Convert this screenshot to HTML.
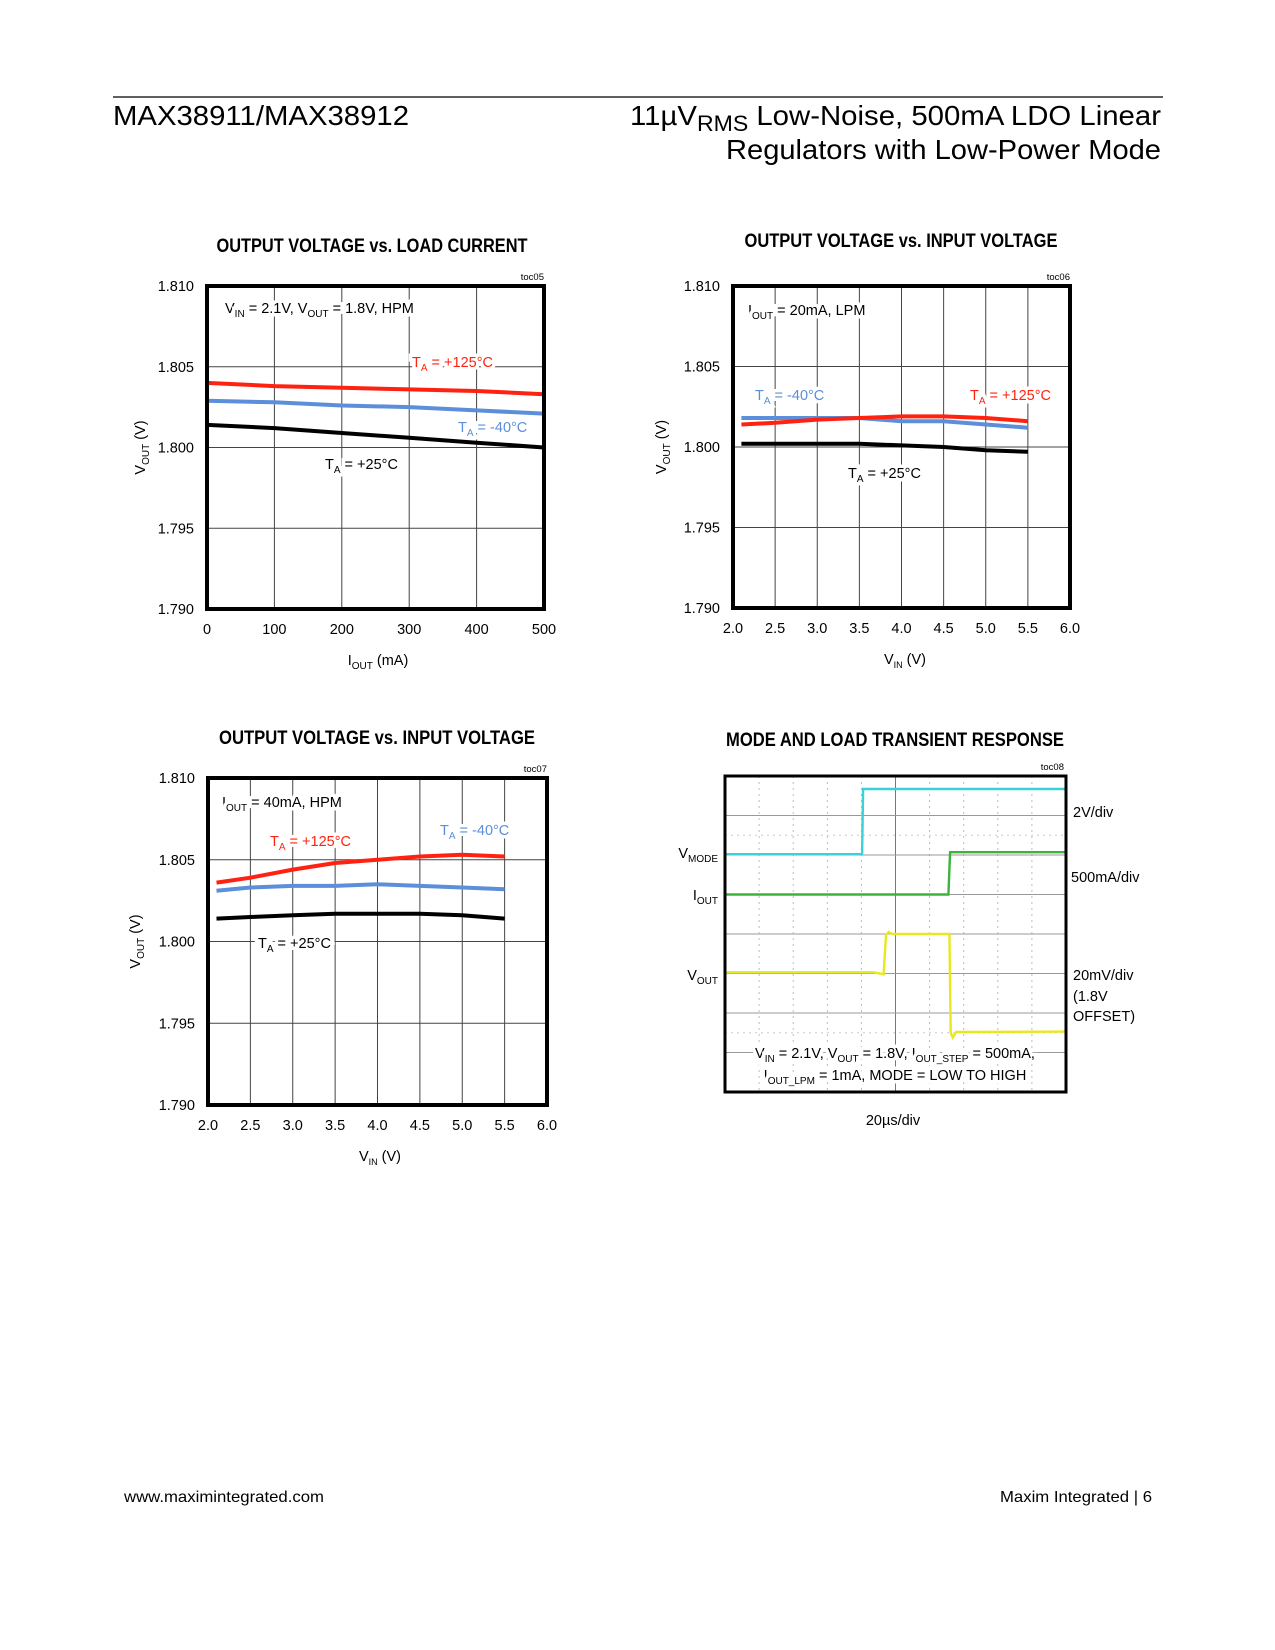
<!DOCTYPE html>
<html><head><meta charset="utf-8"><style>
html,body{margin:0;padding:0;background:#fff;}
svg{display:block;font-family:"Liberation Sans Narrow","Liberation Sans",sans-serif;}
.t{font-weight:bold;font-size:19px;}
.tick{font-size:14.5px;}
.ann{font-size:14.5px;paint-order:stroke;stroke:#fff;stroke-width:7px;}
.hdr{font-family:"Liberation Sans",sans-serif;}
</style></head><body>
<svg id="pg" width="1275" height="1650" viewBox="0 0 1275 1650" xmlns="http://www.w3.org/2000/svg">
<g class="hdr">
<line x1="113" y1="97" x2="1163" y2="97" stroke="#000" stroke-width="1.2"/>
<text x="113" y="125" font-size="28" textLength="296" lengthAdjust="spacingAndGlyphs">MAX38911/MAX38912</text>
<text x="1161" y="125" font-size="28" text-anchor="end" textLength="531" lengthAdjust="spacingAndGlyphs">11µV<tspan dy="6" font-size="22">RMS</tspan><tspan dy="-6"> Low-Noise, 500mA LDO Linear</tspan></text>
<text x="1161" y="159" font-size="28" text-anchor="end" textLength="435" lengthAdjust="spacingAndGlyphs">Regulators with Low-Power Mode</text>
</g>
<g class="hdr">
<text x="124" y="1502" font-size="16" textLength="200" lengthAdjust="spacingAndGlyphs">www.maximintegrated.com</text>
<text x="1152" y="1502" font-size="16" text-anchor="end" textLength="152" lengthAdjust="spacingAndGlyphs">Maxim Integrated | 6</text>
</g>
<g id="c1"></g>
<g id="c2"></g>
<g id="c3"></g>
<g id="c4"></g>
</svg>
<script>
const NS="http://www.w3.org/2000/svg";
// Chart 1 data
const c1X=[0,100,200,300,400,500];
const c1Red=[1.8040,1.8038,1.8037,1.8036,1.8035,1.8033];
const c1Blue=[1.8029,1.8028,1.8026,1.8025,1.8023,1.8021];
const c1Black=[1.8014,1.8012,1.8009,1.8006,1.8003,1.8000];
const c1XTicks=["0","100","200","300","400","500"];
// Chart 2 data
const c2X=[2.1,2.5,3.0,3.5,4.0,4.5,5.0,5.5];
const c2Red=[1.8014,1.8015,1.8017,1.8018,1.8019,1.8019,1.8018,1.8016];
const c2Blue=[1.8018,1.8018,1.8018,1.8018,1.8016,1.8016,1.8014,1.8012];
const c2Black=[1.8002,1.8002,1.8002,1.8002,1.8001,1.8000,1.7998,1.7997];
// Chart 3 data
const c3X=[2.1,2.5,3.0,3.5,4.0,4.5,5.0,5.5];
const c3Red=[1.8036,1.8039,1.8044,1.8048,1.8050,1.8052,1.8053,1.8052];
const c3Blue=[1.8031,1.8033,1.8034,1.8034,1.8035,1.8034,1.8033,1.8032];
const c3Black=[1.8014,1.8015,1.8016,1.8017,1.8017,1.8017,1.8016,1.8014];
const vinTicks=["2.0","2.5","3.0","3.5","4.0","4.5","5.0","5.5","6.0"];
const yTicks=["1.790","1.795","1.800","1.805","1.810"];
// Scope traces (time in divisions 0-10, value in divisions 0-8 from top)
const modeT=[0,4.02,4.05,10];
const modeV=[1.98,1.98,0.33,0.33];
const ioutT=[0,6.55,6.6,10];
const ioutV=[3.0,3.0,1.93,1.93];
const voutT=[0,4.35,4.65,4.72,4.8,4.9,5.1,6.58,6.62,6.68,6.78,10];
const voutV=[4.97,4.97,5.02,4.02,3.95,4.0,4.0,4.0,6.5,6.62,6.48,6.47];

function el(tag,attrs,parent,txt){const e=document.createElementNS(NS,tag);for(const k in attrs)e.setAttribute(k,attrs[k]);if(txt!==undefined)e.textContent=txt;parent.appendChild(e);return e;}

function lineChart(g,cfg){
  const {L,R,T,B,xmin,xmax,xticks,xTickVals,series,title,titleX,titleY,titleW,toc}=cfg;
  const sx=v=>L+(v-xmin)/(xmax-xmin)*(R-L);
  const sy=v=>B-(v-1.790)/(0.020)*(B-T);
  const t=el('text',{x:titleX,y:titleY,'text-anchor':'middle',class:'t',textLength:titleW,lengthAdjust:'spacingAndGlyphs'},g,title);
  
  
  xTickVals.forEach((v,i)=>{
    if(i>0&&i<xTickVals.length-1){const gl=el('line',{x1:sx(v),x2:sx(v),y1:T,y2:B,stroke:'#444','stroke-width':1},g);
    
    }
    const tx=el('text',{x:sx(v),y:B+25,'text-anchor':'middle',class:'tick'},g,xticks[i]);
    
    
  });
  yTicks.forEach((s,i)=>{
    const v=parseFloat(s);
    if(i>0&&i<yTicks.length-1){const gl=el('line',{x1:L,x2:R,y1:sy(v),y2:sy(v),stroke:'#444','stroke-width':1},g);
    
    }
    const ty=el('text',{x:L-13,y:sy(v)+5,'text-anchor':'end',class:'tick'},g,s);
    
    
  });
  cfg.anns.forEach(a=>{
    const e=el('text',{x:a.x,y:a.y,class:'ann',fill:a.c},g);
    e.innerHTML=a.h;
    
    
  });
  series.forEach(s=>{
    const d=s.x.map((xv,i)=>(i?'L':'M')+sx(xv).toFixed(1)+' '+sy(s.y[i]).toFixed(1)).join(' ');
    const p=el('path',{d:d,fill:'none',stroke:s.c,'stroke-width':4,'stroke-linejoin':'round'},g);
    
    
  });
  const fr=el('rect',{x:L,y:T,width:R-L,height:B-T,fill:'none',stroke:'#000','stroke-width':4},g);
  
  
  const tc=el('text',{x:R,y:T-6,'text-anchor':'end','font-size':9.5},g,toc);
  
  
  const yt=el('text',{transform:`translate(${cfg.ytX},${(T+B)/2}) rotate(-90)`,'text-anchor':'middle',class:'tick'},g);
  yt.innerHTML='V<tspan dy="4" font-size="10">OUT</tspan><tspan dy="-4"> (V)</tspan>';
  
  
  const xt=el('text',{x:cfg.xtX,y:B+56,'text-anchor':'middle',class:'tick'},g);
  xt.innerHTML=cfg.xtH;
  
  
}
const TA=(v)=>'T<tspan dy="4" font-size="10">A</tspan><tspan dy="-4"> = '+v+'°C</tspan>';
const SUB=(a,b,c)=>a+'<tspan dy="4" font-size="10">'+b+'</tspan><tspan dy="-4">'+c+'</tspan>';
const VIN='V<tspan dy="4" font-size="9">IN</tspan><tspan dy="-4"> (V)</tspan>';

lineChart(document.getElementById('c1'),{L:207,R:544,T:286,B:609,xmin:0,xmax:500,xticks:c1XTicks,xTickVals:c1XTicks.map(Number),
 title:'OUTPUT VOLTAGE vs. LOAD CURRENT',titleX:372,titleY:252,titleW:311,toc:'toc05',ytX:145,xtX:378,xtH:SUB('I','OUT',' (mA)'),
 series:[{x:c1X,y:c1Red,c:'#f21',n:'series-125c'},{x:c1X,y:c1Blue,c:'#5b8fd9',n:'series-minus40c'},{x:c1X,y:c1Black,c:'#000',n:'series-25c'}],
 anns:[{x:225,y:313,c:'#000',h:SUB('V','IN',' = 2.1V, V')+'<tspan dy="4" font-size="10">OUT</tspan><tspan dy="-4"> = 1.8V, HPM</tspan>',n:'condition-label'},
 {x:412,y:367,c:'#f21',h:TA('+125'),n:'label-125c'},{x:458,y:432,c:'#5b8fd9',h:TA('-40'),n:'label-minus40c'},{x:325,y:469,c:'#000',h:TA('+25'),n:'label-25c'}]});

lineChart(document.getElementById('c2'),{L:733,R:1070,T:286,B:608,xmin:2,xmax:6,xticks:vinTicks,xTickVals:vinTicks.map(Number),
 title:'OUTPUT VOLTAGE vs. INPUT VOLTAGE',titleX:901,titleY:247,titleW:313,toc:'toc06',ytX:666,xtX:905,xtH:VIN,
 series:[{x:c2X,y:c2Blue,c:'#5b8fd9',n:'series-minus40c'},{x:c2X,y:c2Red,c:'#f21',n:'series-125c'},{x:c2X,y:c2Black,c:'#000',n:'series-25c'}],
 anns:[{x:748,y:315,c:'#000',h:SUB('I','OUT',' = 20mA, LPM'),n:'condition-label'},
 {x:970,y:400,c:'#f21',h:TA('+125'),n:'label-125c'},{x:755,y:400,c:'#5b8fd9',h:TA('-40'),n:'label-minus40c'},{x:848,y:478,c:'#000',h:TA('+25'),n:'label-25c'}]});

lineChart(document.getElementById('c3'),{L:208,R:547,T:778,B:1105,xmin:2,xmax:6,xticks:vinTicks,xTickVals:vinTicks.map(Number),
 title:'OUTPUT VOLTAGE vs. INPUT VOLTAGE',titleX:377,titleY:744,titleW:316,toc:'toc07',ytX:140,xtX:380,xtH:VIN,
 series:[{x:c3X,y:c3Red,c:'#f21',n:'series-125c'},{x:c3X,y:c3Blue,c:'#5b8fd9',n:'series-minus40c'},{x:c3X,y:c3Black,c:'#000',n:'series-25c'}],
 anns:[{x:222,y:807,c:'#000',h:SUB('I','OUT',' = 40mA, HPM'),n:'condition-label'},
 {x:270,y:846,c:'#f21',h:TA('+125'),n:'label-125c'},{x:440,y:835,c:'#5b8fd9',h:TA('-40'),n:'label-minus40c'},{x:258,y:948,c:'#000',h:TA('+25'),n:'label-25c'}]});

// Scope
(function(){
  const g=document.getElementById('c4');
  const L=725,R=1066,T=776,B=1092;
  const tx=v=>L+v/10*(R-L), ty=v=>T+v/8*(B-T);
  const t=el('text',{x:895,y:746,'text-anchor':'middle',class:'t',textLength:338,lengthAdjust:'spacingAndGlyphs'},g,'MODE AND LOAD TRANSIENT RESPONSE');
  
  
  const tc=el('text',{x:1064,y:770,'text-anchor':'end','font-size':9.5},g,'toc08');
  
  
  for(let i=1;i<10;i++){const l=el('line',{x1:tx(i),x2:tx(i),y1:T,y2:B,stroke:i==5?'#777':'#bbb','stroke-width':1,'stroke-dasharray':i==5?'none':'2 4'},g);
    
    }
  for(let i=1;i<8;i++){const l=el('line',{x1:L,x2:R,y1:ty(i),y2:ty(i),stroke:'#999','stroke-width':1},g);
    
    }
  [1.5,6.5].forEach(v=>{const l=el('line',{x1:L,x2:R,y1:ty(v),y2:ty(v),stroke:'#ccc','stroke-width':1,'stroke-dasharray':'2 4'},g);
    
    });
  const tr=[[modeT,modeV,'#3cd0d8','trace-vmode'],[ioutT,ioutV,'#3cb43c','trace-iout'],[voutT,voutV,'#e8e820','trace-vout']];
  tr.forEach(s=>{
    const d=s[0].map((x,i)=>(i?'L':'M')+tx(x).toFixed(1)+' '+ty(s[1][i]).toFixed(1)).join(' ');
    const p=el('path',{d:d,fill:'none',stroke:s[2],'stroke-width':2.4},g);
    
    
  });
  const ann=el('text',{x:895,y:1058,'text-anchor':'middle',class:'ann'},g);
  ann.innerHTML=SUB('V','IN',' = 2.1V, V')+'<tspan dy="4" font-size="10">OUT</tspan><tspan dy="-4"> = 1.8V, I</tspan><tspan dy="4" font-size="10">OUT_STEP</tspan><tspan dy="-4"> = 500mA,</tspan>';
  
  
  const ann2=el('text',{x:895,y:1080,'text-anchor':'middle',class:'ann'},g);
  ann2.innerHTML=SUB('I','OUT_LPM',' = 1mA, MODE = LOW TO HIGH');
  
  
  const fr=el('rect',{x:L,y:T,width:R-L,height:B-T,fill:'none',stroke:'#000','stroke-width':3},g);
  
  
  const labs=[[718,858,'end',SUB('V','MODE',''),'label-vmode'],[718,900,'end',SUB('I','OUT',''),'label-iout'],[718,980,'end',SUB('V','OUT',''),'label-vout'],
   [1073,817,'start','2V/div','scale-vmode'],[1071,882,'start','500mA/div','scale-iout'],[1073,980,'start','20mV/div','scale-vout'],
   [1073,1001,'start','(1.8V','scale-vout-offset1'],[1073,1021,'start','OFFSET)','scale-vout-offset2'],[893,1125,'middle','20µs/div','time-scale']];
  labs.forEach(a=>{const e=el('text',{x:a[0],y:a[1],'text-anchor':a[2],class:'tick'},g);e.innerHTML=a[3];
    
    });
})();
</script>
</body></html>
